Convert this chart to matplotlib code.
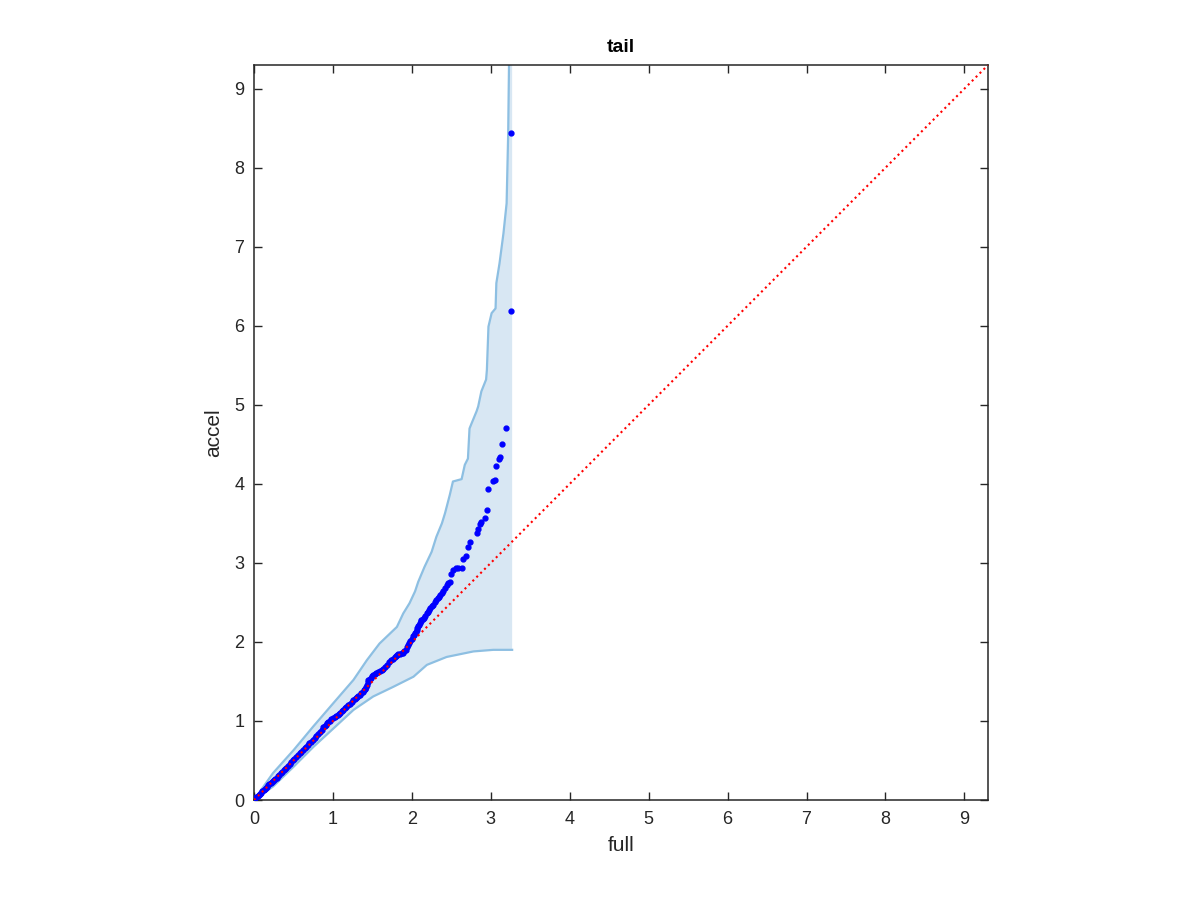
import matplotlib.pyplot as plt

plt.rcParams['font.family'] = ['Liberation Sans', 'DejaVu Sans']

# quantiles: full (x) vs accel (y)
full = [0.00, 0.015, 0.03, 0.045, 0.06, 0.075, 0.09, 0.105, 0.12, 0.135, 0.15, 0.165,
        0.18, 0.195, 0.21, 0.225, 0.24, 0.255, 0.27, 0.285, 0.30, 0.32, 0.34, 0.36,
        0.38, 0.395, 0.41, 0.43, 0.45, 0.47, 0.49, 0.51, 0.53, 0.555, 0.58, 0.60,
        0.62, 0.64, 0.66, 0.68, 0.70, 0.725, 0.75, 0.77, 0.79, 0.81, 0.83, 0.855,
        0.88, 0.895, 0.91, 0.925, 0.94, 0.96, 0.98, 1.00, 1.02, 1.04, 1.06, 1.075,
        1.09, 1.11, 1.13, 1.15, 1.17, 1.195, 1.22, 1.24, 1.26, 1.275, 1.29, 1.305,
        1.32, 1.34, 1.36, 1.375, 1.39, 1.40, 1.41, 1.42, 1.43, 1.44, 1.45, 1.465,
        1.48, 1.495, 1.51, 1.53, 1.55, 1.57, 1.59, 1.615, 1.64, 1.665, 1.69, 1.715,
        1.74, 1.76, 1.78, 1.795, 1.81, 1.83, 1.85, 1.87, 1.89, 1.905, 1.92, 1.935,
        1.95, 1.965, 1.98, 2.00, 2.02, 2.03, 2.04, 2.05, 2.06, 2.07, 2.08, 2.09,
        2.10, 2.11, 2.12, 2.135, 2.15, 2.17, 2.19, 2.205, 2.22, 2.235, 2.25, 2.27,
        2.29, 2.31, 2.325, 2.34, 2.36, 2.38, 2.40, 2.42, 2.44, 2.46, 2.48, 2.50,
        2.52, 2.56, 2.59, 2.63, 2.65, 2.69, 2.71, 2.73, 2.82, 2.84, 2.86, 2.88,
        2.93, 2.95, 2.97, 3.03, 3.05, 3.07, 3.10, 3.11, 3.14, 3.19, 3.25, 3.26]
accel = [0.00, 0.02, 0.035, 0.05, 0.065, 0.08, 0.095, 0.11, 0.125, 0.14, 0.155, 0.17,
         0.185, 0.20, 0.215, 0.225, 0.235, 0.25, 0.265, 0.28, 0.30, 0.32, 0.34, 0.36,
         0.38, 0.39, 0.405, 0.43, 0.455, 0.48, 0.50, 0.52, 0.545, 0.57, 0.595, 0.61,
         0.635, 0.655, 0.675, 0.69, 0.715, 0.74, 0.765, 0.79, 0.815, 0.84, 0.865, 0.89,
         0.92, 0.94, 0.955, 0.975, 0.99, 1.005, 1.02, 1.035, 1.05, 1.065, 1.08, 1.09,
         1.10, 1.12, 1.14, 1.16, 1.18, 1.20, 1.22, 1.24, 1.26, 1.275, 1.29, 1.30,
         1.31, 1.33, 1.35, 1.37, 1.39, 1.40, 1.41, 1.435, 1.46, 1.49, 1.52, 1.535,
         1.55, 1.565, 1.58, 1.595, 1.61, 1.62, 1.63, 1.645, 1.66, 1.685, 1.71, 1.74,
         1.77, 1.79, 1.81, 1.825, 1.84, 1.845, 1.85, 1.855, 1.86, 1.88, 1.90, 1.93,
         1.96, 1.985, 2.01, 2.04, 2.07, 2.09, 2.11, 2.13, 2.15, 2.175, 2.20, 2.22,
         2.24, 2.26, 2.28, 2.29, 2.30, 2.33, 2.36, 2.38, 2.40, 2.425, 2.45, 2.47,
         2.50, 2.53, 2.55, 2.57, 2.59, 2.615, 2.64, 2.68, 2.72, 2.74, 2.76, 2.86,
         2.91, 2.93, 2.93, 2.94, 3.05, 3.09, 3.20, 3.27, 3.38, 3.43, 3.49, 3.52,
         3.57, 3.67, 3.94, 4.04, 4.05, 4.22, 4.31, 4.34, 4.51, 4.71, 6.19, 8.44]

# confidence envelope
upper_x = [0.00, 0.24, 0.50, 0.75, 1.00, 1.26, 1.43, 1.59, 1.81, 1.89, 1.97, 2.04,
           2.08, 2.16, 2.25, 2.31, 2.38, 2.42, 2.48, 2.52, 2.63, 2.67, 2.71, 2.73,
           2.75, 2.82, 2.84, 2.88, 2.94, 2.95, 2.97, 3.01, 3.06, 3.07, 3.11, 3.16,
           3.20, 3.22, 3.23, 3.27]
upper_y = [0.00, 0.34, 0.63, 0.93, 1.22, 1.52, 1.77, 1.98, 2.19, 2.36, 2.49, 2.64,
           2.76, 2.95, 3.14, 3.33, 3.50, 3.63, 3.86, 4.03, 4.06, 4.24, 4.32, 4.70,
           4.75, 4.92, 4.98, 5.17, 5.32, 5.44, 5.99, 6.16, 6.22, 6.54, 6.79, 7.17,
           7.55, 8.44, 9.28, 14.0]
lower_x = [0.00, 0.24, 0.50, 0.75, 1.00, 1.26, 1.51, 1.76, 2.02, 2.19, 2.44, 2.78,
           3.03, 3.27]
lower_y = [0.00, 0.17, 0.42, 0.67, 0.90, 1.14, 1.31, 1.43, 1.56, 1.71, 1.81, 1.88,
           1.90, 1.90]

ref = [0, 9.3]
ticks = list(range(10))

fig = plt.figure(figsize=(12, 9), dpi=100)
ax = fig.add_axes([0.2117, 0.1111, 0.6117, 0.8167])

poly_x = upper_x + lower_x[::-1]
poly_y = upper_y + lower_y[::-1]
ax.fill(poly_x, poly_y, color='#d8e7f3', lw=0, zorder=1)
ax.plot(upper_x, upper_y, color='#8dbfe2', lw=1.6, zorder=2)
ax.plot(lower_x, lower_y, color='#8dbfe2', lw=1.6, zorder=2)

ax.plot(full, accel, '.', color='#0000ff', ms=7, zorder=3)
ax.plot(ref, ref, ':', color='#ff0000', lw=1.5, zorder=4)

ax.set_xlim(0, 9.3)
ax.set_ylim(0, 9.3)
ax.set_xticks(ticks)
ax.set_yticks(ticks)
ax.tick_params(direction='in', length=6, width=1, top=True, right=True,
               labelsize=13, colors='#262626')
ax.tick_params(axis='x', pad=8)
ax.tick_params(axis='y', pad=7)
for s in ax.spines.values():
    s.set_color('#262626')
    s.set_linewidth(1.1)

ax.set_xlabel('full', fontsize=15, color='#262626', labelpad=6)
ax.set_ylabel('accel', fontsize=15, color='#262626', labelpad=8)
ax.set_title('tail', fontsize=14, fontweight='bold', pad=9)

fig.savefig('out.png')
